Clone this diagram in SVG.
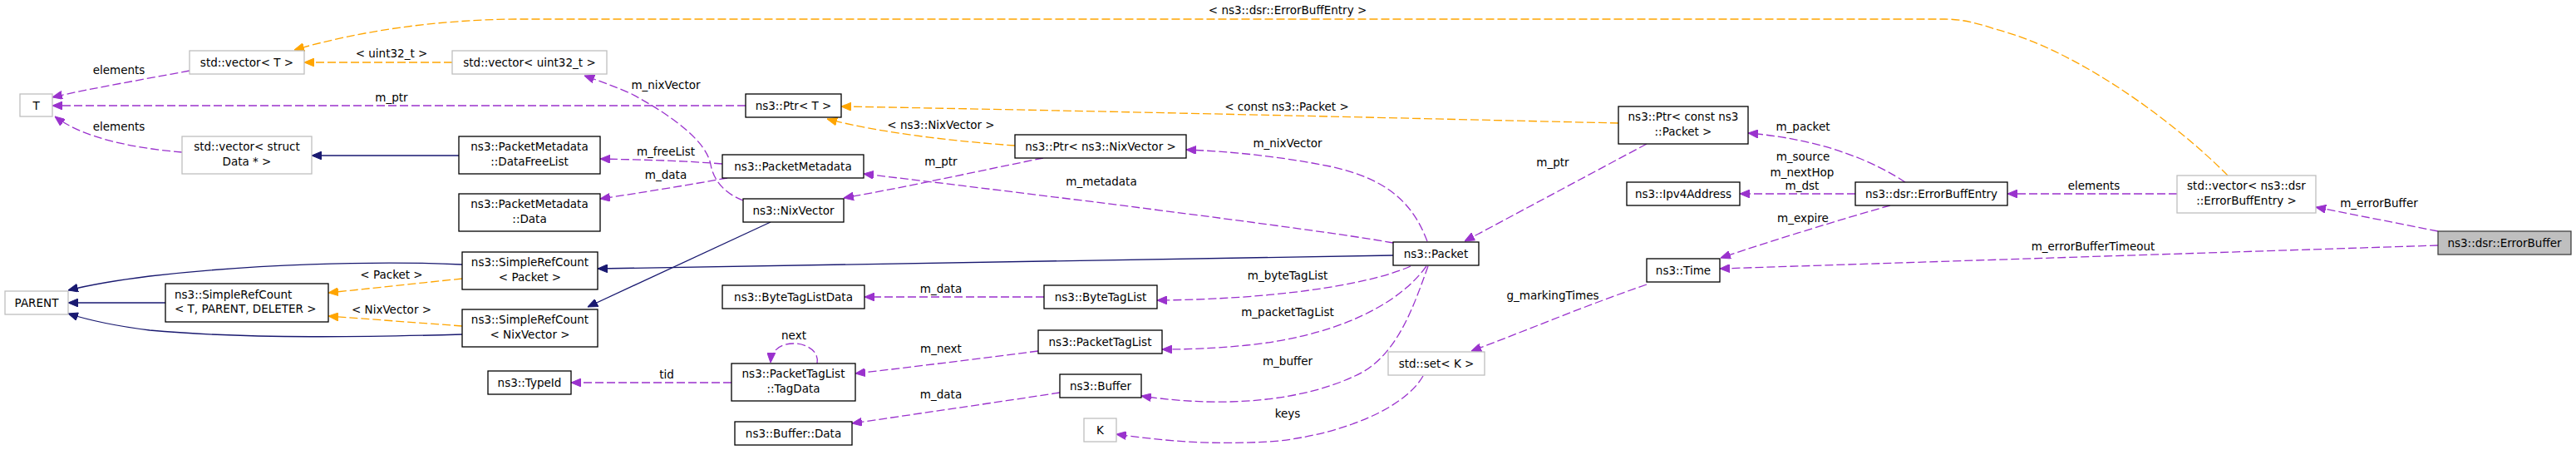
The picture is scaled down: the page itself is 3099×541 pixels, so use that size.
<svg xmlns="http://www.w3.org/2000/svg" width="3099" height="541" viewBox="0 0 3099 541">
<style>
text{font-family:"DejaVu Sans","Liberation Sans",sans-serif;font-size:13.5px;fill:#000}
.n text{text-anchor:middle}
.n rect{fill:#fff;stroke:#000;stroke-width:1.3}
.g rect{stroke:#bfbfbf}
.e path{fill:none;stroke-width:1.3}
.p{stroke:#9a32cd;stroke-dasharray:10,4}
.o{stroke:#ffa500;stroke-dasharray:10,4}
.b{stroke:#191970}
.lbl text{text-anchor:middle}
</style>
<defs>
<marker id="ap" markerUnits="userSpaceOnUse" markerWidth="12" markerHeight="10" viewBox="0 0 12 10" refX="12" refY="5" orient="auto"><path d="M0,0 L12,5 L0,10 z" fill="#9a32cd" stroke="#9a32cd"/></marker>
<marker id="ao" markerUnits="userSpaceOnUse" markerWidth="12" markerHeight="10" viewBox="0 0 12 10" refX="12" refY="5" orient="auto"><path d="M0,0 L12,5 L0,10 z" fill="#ffa500" stroke="#ffa500"/></marker>
<marker id="ab" markerUnits="userSpaceOnUse" markerWidth="12" markerHeight="10" viewBox="0 0 12 10" refX="12" refY="5" orient="auto"><path d="M0,0 L12,5 L0,10 z" fill="#191970" stroke="#191970"/></marker>
</defs>
<rect width="3099" height="541" fill="#fff"/>
<g id="edges" class="e">
<path class="p" marker-end="url(#ap)" d="M228,85 C170,96 110,106 63,117"/>
<path class="p" marker-end="url(#ap)" d="M219,183 C160,178 100,166 66,140"/>
<path class="p" marker-end="url(#ap)" d="M897,127 L63,127"/>
<path class="p" marker-end="url(#ap)" d="M894,241 C870,232 858,215 855,198 C850,170 810,140 760,113 C740,104 720,97 703,91"/>
<path class="p" marker-end="url(#ap)" d="M869,197 C820,193 770,192 722,191"/>
<path class="p" marker-end="url(#ap)" d="M875,214 C830,222 770,232 722,239"/>
<path class="p" marker-end="url(#ap)" d="M1676,292 C1600,278 1300,240 1039,209"/>
<path class="p" marker-end="url(#ap)" d="M1717,290 C1700,245 1670,215 1600,200 C1540,188 1480,182 1427,180"/>
<path class="p" marker-end="url(#ap)" d="M1255,190 C1180,205 1090,225 1015,238"/>
<path class="p" marker-end="url(#ap)" d="M1981,173 L1762,290"/>
<path class="p" marker-end="url(#ap)" d="M2292,219 C2260,198 2200,168 2103,160"/>
<path class="p" marker-end="url(#ap)" d="M2232,233 L2093,233"/>
<path class="p" marker-end="url(#ap)" d="M2274,247 C2220,262 2130,290 2070,310"/>
<path class="p" marker-end="url(#ap)" d="M2619,233 L2415,233"/>
<path class="p" marker-end="url(#ap)" d="M2933,278 L2786,249"/>
<path class="p" marker-end="url(#ap)" d="M2933,295 L2069,323"/>
<path class="p" marker-end="url(#ap)" d="M1981,342 C1900,370 1830,400 1770,422"/>
<path class="p" marker-end="url(#ap)" d="M1712,452 C1690,490 1620,520 1540,530 C1460,536 1400,530 1343,522"/>
<path class="p" marker-end="url(#ap)" d="M1697,320 C1640,345 1520,360 1392,361"/>
<path class="p" marker-end="url(#ap)" d="M1716,320 C1680,370 1600,405 1500,415 C1460,419 1430,420 1398,420"/>
<path class="p" marker-end="url(#ap)" d="M1718,320 C1700,370 1680,430 1630,452 C1570,480 1480,492 1373,476"/>
<path class="p" marker-end="url(#ap)" d="M1256,357 L1040,357"/>
<path class="p" marker-end="url(#ap)" d="M1249,422 C1170,432 1100,441 1029,449"/>
<path class="p" marker-end="url(#ap)" d="M1275,472 C1190,485 1100,498 1025,509"/>
<path class="p" marker-end="url(#ap)" d="M983,437 C986,422 970,413 955,413 C940,413 928,420 927,436"/>
<path class="p" marker-end="url(#ap)" d="M880,460 L687,460"/>
<path class="b" marker-end="url(#ab)" d="M552,187 L375,187"/>
<path class="b" marker-end="url(#ab)" d="M1676,307 L719,323"/>
<path class="b" marker-end="url(#ab)" d="M927,267 L707,369"/>
<path class="b" marker-end="url(#ab)" d="M199,364 L82,364"/>
<path class="b" marker-end="url(#ab)" d="M556,318 C450,313 300,318 180,332 C140,337 110,342 82,349"/>
<path class="b" marker-end="url(#ab)" d="M556,402 C450,405 300,408 180,397 C140,392 110,386 82,377"/>
<path class="o" marker-end="url(#ao)" d="M556,335 L395,352"/>
<path class="o" marker-end="url(#ao)" d="M556,392 L395,380"/>
<path class="o" marker-end="url(#ao)" d="M544,75 L366,75"/>
<path class="o" marker-end="url(#ao)" d="M1947,148 C1600,140 1300,133 1012,128"/>
<path class="o" marker-end="url(#ao)" d="M1221,175 C1150,170 1060,160 995,143"/>
<path class="o" marker-end="url(#ao)" d="M2680,211 C2620,150 2500,60 2400,35 C2380,28 2360,23 2340,23 L620,23 C520,24 430,38 354,60"/>
<g class="lbl">
<text x="143" y="89">elements</text>
<text x="143" y="157">elements</text>
<text x="471" y="69">&lt; uint32_t &gt;</text>
<text x="471" y="122">m_ptr</text>
<text x="471" y="335">&lt; Packet &gt;</text>
<text x="471" y="377">&lt; NixVector &gt;</text>
<text x="801" y="107">m_nixVector</text>
<text x="801" y="187">m_freeList</text>
<text x="801" y="215">m_data</text>
<text x="955" y="408">next</text>
<text x="802" y="455">tid</text>
<text x="1132" y="155">&lt; ns3::NixVector &gt;</text>
<text x="1132" y="199">m_ptr</text>
<text x="1132" y="352">m_data</text>
<text x="1132" y="424">m_next</text>
<text x="1132" y="479">m_data</text>
<text x="1325" y="223">m_metadata</text>
<text x="1549" y="17">&lt; ns3::dsr::ErrorBuffEntry &gt;</text>
<text x="1548" y="133">&lt; const ns3::Packet &gt;</text>
<text x="1549" y="177">m_nixVector</text>
<text x="1549" y="336">m_byteTagList</text>
<text x="1549" y="380">m_packetTagList</text>
<text x="1549" y="439">m_buffer</text>
<text x="1549" y="502">keys</text>
<text x="1868" y="200">m_ptr</text>
<text x="1868" y="360">g_markingTimes</text>
<text x="2169" y="157">m_packet</text>
<text x="2169" y="193">m_source</text>
<text x="2168" y="212">m_nextHop</text>
<text x="2168" y="228">m_dst</text>
<text x="2169" y="267">m_expire</text>
<text x="2519" y="228">elements</text>
<text x="2518" y="301">m_errorBufferTimeout</text>
<text x="2862" y="249">m_errorBuffer</text>
</g>
</g>
<g id="n_T" class="n g"><rect x="24" y="113" width="39" height="27"/><text x="43.5" y="131.5">T</text></g>
<g id="n_vecT" class="n g"><rect x="228" y="61" width="138" height="28"/><text x="297" y="80">std::vector&lt; T &gt;</text></g>
<g id="n_vecU32" class="n g"><rect x="544" y="61" width="186" height="28"/><text x="637" y="80">std::vector&lt; uint32_t &gt;</text></g>
<g id="n_vecData" class="n g"><rect x="219" y="164" width="156" height="45"/><text x="297" y="181">std::vector&lt; struct</text><text x="297" y="199">Data * &gt;</text></g>
<g id="n_PARENT" class="n g"><rect x="6" y="350" width="76" height="28"/><text x="44" y="369">PARENT</text></g>
<g id="n_SRC_TPD" class="n"><rect x="199" y="341" width="196" height="46"/><text x="210" y="359" style="text-anchor:start">ns3::SimpleRefCount</text><text x="210" y="376" style="text-anchor:start">&lt; T, PARENT, DELETER &gt;</text></g>
<g id="n_DataFreeList" class="n"><rect x="552" y="164" width="170" height="45"/><text x="637" y="181">ns3::PacketMetadata</text><text x="637" y="199">::DataFreeList</text></g>
<g id="n_PMData" class="n"><rect x="552" y="233" width="170" height="45"/><text x="637" y="250">ns3::PacketMetadata</text><text x="637" y="268">::Data</text></g>
<g id="n_SRC_Packet" class="n"><rect x="556" y="303" width="163" height="45"/><text x="637.5" y="320">ns3::SimpleRefCount</text><text x="637.5" y="338">&lt; Packet &gt;</text></g>
<g id="n_SRC_Nix" class="n"><rect x="556" y="372" width="163" height="45"/><text x="637.5" y="389">ns3::SimpleRefCount</text><text x="637.5" y="407">&lt; NixVector &gt;</text></g>
<g id="n_TypeId" class="n"><rect x="587" y="446" width="100" height="28"/><text x="637" y="465">ns3::TypeId</text></g>
<g id="n_PtrT" class="n"><rect x="897" y="113" width="115" height="28"/><text x="954.5" y="132">ns3::Ptr&lt; T &gt;</text></g>
<g id="n_PacketMetadata" class="n"><rect x="869" y="186" width="170" height="28"/><text x="954" y="205">ns3::PacketMetadata</text></g>
<g id="n_NixVector" class="n"><rect x="894" y="239" width="121" height="28"/><text x="954.5" y="258">ns3::NixVector</text></g>
<g id="n_ByteTagListData" class="n"><rect x="869" y="343" width="171" height="28"/><text x="954.5" y="362">ns3::ByteTagListData</text></g>
<g id="n_TagData" class="n"><rect x="880" y="437" width="149" height="45"/><text x="954.5" y="454">ns3::PacketTagList</text><text x="954.5" y="472">::TagData</text></g>
<g id="n_BufferData" class="n"><rect x="884" y="507" width="141" height="28"/><text x="954.5" y="526">ns3::Buffer::Data</text></g>
<g id="n_PtrNix" class="n"><rect x="1221" y="162" width="206" height="28"/><text x="1324" y="181">ns3::Ptr&lt; ns3::NixVector &gt;</text></g>
<g id="n_ByteTagList" class="n"><rect x="1256" y="343" width="136" height="28"/><text x="1324" y="362">ns3::ByteTagList</text></g>
<g id="n_PacketTagList" class="n"><rect x="1249" y="397" width="149" height="28"/><text x="1323.5" y="416">ns3::PacketTagList</text></g>
<g id="n_Buffer" class="n"><rect x="1275" y="450" width="98" height="28"/><text x="1324" y="469">ns3::Buffer</text></g>
<g id="n_K" class="n g"><rect x="1304" y="503" width="39" height="28"/><text x="1323.5" y="522">K</text></g>
<g id="n_Packet" class="n"><rect x="1676" y="291" width="103" height="28"/><text x="1727.5" y="310">ns3::Packet</text></g>
<g id="n_setK" class="n g"><rect x="1670" y="423" width="116" height="28"/><text x="1728" y="442">std::set&lt; K &gt;</text></g>
<g id="n_PtrCPacket" class="n"><rect x="1947" y="128" width="156" height="45"/><text x="2025" y="145">ns3::Ptr&lt; const ns3</text><text x="2025" y="163">::Packet &gt;</text></g>
<g id="n_Ipv4Address" class="n"><rect x="1957" y="219" width="136" height="28"/><text x="2025" y="238">ns3::Ipv4Address</text></g>
<g id="n_Time" class="n"><rect x="1981" y="311" width="88" height="28"/><text x="2025" y="330">ns3::Time</text></g>
<g id="n_ErrorBuffEntry" class="n"><rect x="2232" y="219" width="183" height="28"/><text x="2323.5" y="238">ns3::dsr::ErrorBuffEntry</text></g>
<g id="n_vecEBE" class="n g"><rect x="2619" y="211" width="167" height="45"/><text x="2702.5" y="228">std::vector&lt; ns3::dsr</text><text x="2702.5" y="246">::ErrorBuffEntry &gt;</text></g>
<g id="n_ErrorBuffer" class="n"><rect x="2933" y="278" width="160" height="28" style="fill:#bfbfbf;stroke:#404040"/><text x="3013" y="297">ns3::dsr::ErrorBuffer</text></g>
</svg>
